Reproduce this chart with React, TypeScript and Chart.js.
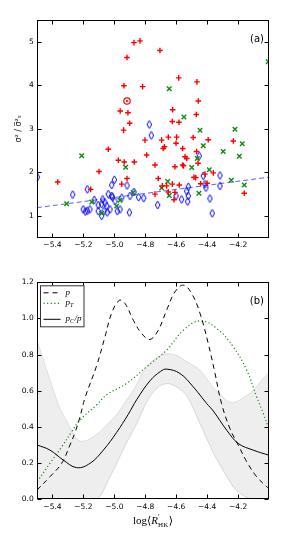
import React, { useEffect, useRef } from 'react';
import { Chart, registerables } from 'chart.js';
Chart.register(...registerables);

// ---------- shared axis ----------
const X_MIN = -5.5;
const X_MAX = -4.0;
const xTicks = [-5.4, -5.2, -5.0, -4.8, -4.6, -4.4, -4.2];
const topYTicks = [1, 2, 3, 4, 5];
const botYTicks = [0, 0.2, 0.4, 0.6, 0.8, 1.0, 1.2];

// ---------- panel (a) ----------
const redX = [-4.873, -4.834, -4.705, -4.918, -4.938, -4.817, -4.584, -4.466, -4.457, -4.470, -4.623, -4.625, -4.582, -4.962, -4.912, -4.901, -4.940, -5.366, -5.153, -5.099, -5.039, -4.974, -4.936, -4.918, -4.952, -4.871, -4.802, -4.791, -4.737, -4.716, -4.737, -4.694, -4.684, -4.676, -4.651, -4.597, -4.601, -4.558, -4.543, -4.532, -4.608, -4.558, -4.553, -4.662, -4.625, -4.580, -4.651, -4.608, -4.614, -4.490, -4.393, -4.231, -4.468, -4.459, -4.360, -4.485, -4.474, -4.414, -4.442, -4.160, -4.690, -4.400];
const redY = [4.98, 5.02, 4.80, 4.64, 3.99, 3.97, 4.17, 4.08, 3.64, 3.33, 3.44, 3.17, 3.15, 3.41, 3.37, 3.13, 2.97, 1.78, 1.61, 2.02, 2.53, 2.28, 2.24, 1.86, 1.73, 2.24, 2.74, 2.40, 2.17, 1.86, 1.50, 2.74, 2.55, 2.59, 2.81, 2.81, 2.67, 2.55, 2.36, 2.32, 2.13, 2.17, 2.15, 1.69, 1.73, 1.71, 1.55, 1.54, 1.37, 2.80, 2.75, 2.72, 2.48, 2.21, 1.99, 1.89, 1.88, 1.96, 1.74, 1.52, 1.69, 1.75];

const blueX = [-5.498, -5.269, -5.175, -5.201, -5.175, -5.158, -5.188, -5.130, -5.104, -5.082, -5.075, -5.082, -5.049, -5.039, -5.017, -4.996, -5.028, -5.067, -5.104, -4.981, -5.017, -5.000, -4.918, -4.873, -4.899, -4.843, -4.810, -4.952, -4.963, -4.903, -4.720, -4.774, -4.761, -4.601, -4.532, -4.522, -4.526, -4.565, -4.451, -4.425, -4.317, -4.414, -4.408, -4.317, -4.522, -4.382, -4.367, -5.046, -5.013, -5.060];
const blueY = [1.89, 1.49, 1.61, 1.15, 1.12, 1.15, 1.10, 1.37, 1.25, 1.00, 1.38, 1.27, 1.23, 1.50, 1.46, 1.34, 1.15, 1.11, 1.11, 1.11, 1.71, 1.83, 1.70, 1.55, 1.46, 1.43, 1.41, 1.42, 1.15, 1.08, 1.25, 3.10, 2.85, 1.46, 1.57, 1.46, 1.33, 1.38, 2.38, 1.92, 1.93, 1.73, 1.65, 1.69, 1.67, 1.40, 1.06, 1.08, 1.43, 1.30];

const greenX = [-5.211, -5.308, -5.146, -5.082, -4.985, -4.963, -4.927, -4.878, -4.694, -4.655, -4.645, -4.500, -4.446, -4.220, -4.425, -4.173, -4.296, -4.192, -4.464, -4.386, -4.244, -4.160, -4.453, -4.645, -4.550, -4.005];
const greenY = [2.38, 1.28, 1.32, 1.06, 1.23, 1.36, 2.12, 1.54, 1.64, 1.79, 1.47, 2.11, 2.97, 2.99, 2.61, 2.66, 2.48, 2.37, 2.32, 2.06, 1.82, 1.71, 1.52, 3.92, 3.27, 4.54];

const targetX = [-4.918];
const targetY = [3.64];

const regX = [-5.5, -4.0];
const regY = [1.19, 1.89];

// ---------- panel (b) ----------
const pX = [-5.500, -5.416, -5.340, -5.287, -5.254, -5.222, -5.190, -5.114, -5.060, -5.017, -4.968, -4.931, -4.877, -4.823, -4.770, -4.716, -4.662, -4.608, -4.554, -4.500, -4.446, -4.393, -4.349, -4.307, -4.252, -4.199, -4.144, -4.080, -4.015, -4.000];
const pY = [0.051, 0.125, 0.20, 0.30, 0.37, 0.456, 0.56, 0.74, 0.90, 1.03, 1.10, 1.083, 0.99, 0.917, 0.884, 0.935, 1.046, 1.147, 1.184, 1.138, 1.028, 0.862, 0.696, 0.53, 0.39, 0.300, 0.208, 0.125, 0.07, 0.06];

const ptX = [-5.498, -5.416, -5.340, -5.276, -5.222, -5.114, -5.049, -4.920, -4.791, -4.662, -4.554, -4.446, -4.338, -4.231, -4.144, -4.080, -4.037, -4.005];
const ptY = [0.097, 0.20, 0.29, 0.374, 0.438, 0.522, 0.578, 0.641, 0.733, 0.825, 0.935, 0.987, 0.945, 0.843, 0.714, 0.567, 0.475, 0.40];

const pcX = [-5.498, -5.416, -5.330, -5.243, -5.157, -5.071, -4.985, -4.910, -4.856, -4.770, -4.700, -4.662, -4.576, -4.490, -4.403, -4.360, -4.274, -4.199, -4.102, -4.005];
const pcY = [0.30, 0.272, 0.217, 0.175, 0.199, 0.272, 0.37, 0.47, 0.55, 0.655, 0.708, 0.72, 0.696, 0.622, 0.53, 0.488, 0.383, 0.309, 0.272, 0.245];

const bandX = [-5.500, -5.416, -5.351, -5.306, -5.254, -5.203, -5.112, -5.028, -4.983, -4.944, -4.879, -4.854, -4.789, -4.724, -4.660, -4.595, -4.531, -4.447, -4.362, -4.317, -4.272, -4.233, -4.188, -4.143, -4.104, -4.046, -4.000];
const bandUp = [0.88, 0.66, 0.50, 0.43, 0.345, 0.32, 0.36, 0.43, 0.47, 0.52, 0.60, 0.64, 0.735, 0.785, 0.805, 0.795, 0.76, 0.714, 0.62, 0.58, 0.545, 0.535, 0.55, 0.575, 0.60, 0.66, 0.70];
const bandLo = [0, 0, 0, 0, 0, 0, 0, 0.125, 0.20, 0.272, 0.38, 0.42, 0.54, 0.615, 0.64, 0.62, 0.57, 0.42, 0.26, 0.19, 0.125, 0.07, 0.033, 0.01, 0, 0, 0];

const legendLabels = [
  { main: 'p', sub: '', tail: '' },
  { main: 'p', sub: 'T', tail: '' },
  { main: 'p', sub: 'C', tail: '/p' },
];

const zip = (xs: number[], ys: number[]) => xs.map((x, i) => ({ x, y: ys[i] }));
const FONT = 'DejaVu Sans';
const GREEN = '#118a11';

function makeDiamond(color: string) {
  const c = document.createElement('canvas');
  c.width = 7;
  c.height = 10;
  const g = c.getContext('2d')!;
  g.strokeStyle = color;
  g.lineWidth = 1;
  g.beginPath();
  g.moveTo(3.5, 1);
  g.lineTo(5.8, 5);
  g.lineTo(3.5, 9);
  g.lineTo(1.2, 5);
  g.closePath();
  g.stroke();
  return c;
}

const frameTicks = {
  id: 'frameTicks',
  afterDatasetsDraw(chart: any, _args: any, opts: any) {
    const { ctx, chartArea: a, scales } = chart;
    ctx.save();
    ctx.strokeStyle = '#000';
    ctx.lineWidth = 1;
    const L = Math.round(a.left) + 0.5, R = Math.round(a.right) - 0.5;
    const T = Math.round(a.top) + 0.5, B = Math.round(a.bottom) - 0.5;
    ctx.strokeRect(L, T, R - L, B - T);
    ctx.beginPath();
    for (const t of scales.x.ticks) {
      const px = Math.round(scales.x.getPixelForValue(t.value)) + 0.5;
      ctx.moveTo(px, B); ctx.lineTo(px, B - 4);
      ctx.moveTo(px, T); ctx.lineTo(px, T + 4);
    }
    for (const t of scales.y.ticks) {
      const py = Math.round(scales.y.getPixelForValue(t.value)) + 0.5;
      ctx.moveTo(L, py); ctx.lineTo(L + 4, py);
      ctx.moveTo(R, py); ctx.lineTo(R - 4, py);
    }
    ctx.stroke();
    if (opts && opts.label) {
      ctx.fillStyle = '#000';
      ctx.font = `10px "${FONT}"`;
      ctx.textAlign = 'right';
      ctx.textBaseline = 'middle';
      ctx.fillText(opts.label, a.right - 5, a.top + opts.dy);
    }
    ctx.restore();
  },
};

const legendPlugin = {
  id: 'innerLegend',
  afterDraw(chart: any, _args: any, opts: any) {
    if (!opts || !opts.show) return;
    const { ctx, chartArea: a } = chart;
    ctx.save();
    const bx = a.left + 3.5, by = a.top + 3.5, bw = 43.5, bh = 41;
    ctx.fillStyle = '#fff';
    ctx.fillRect(bx, by, bw, bh);
    ctx.strokeStyle = '#333';
    ctx.lineWidth = 1;
    ctx.strokeRect(bx, by, bw, bh);
    const rowsY = [by + 7, by + 17.5, by + 33.5];
    const styles = [
      { color: '#000', dash: [5, 4], w: 1 },
      { color: GREEN, dash: [1.2, 2.4], w: 1.2 },
      { color: '#000', dash: [], w: 1 },
    ];
    legendLabels.forEach((lab, i) => {
      const y = rowsY[i];
      const s = styles[i];
      ctx.strokeStyle = s.color;
      ctx.lineWidth = s.w;
      ctx.setLineDash(s.dash);
      ctx.beginPath();
      ctx.moveTo(bx + 3, y);
      ctx.lineTo(bx + 20, y);
      ctx.stroke();
      ctx.setLineDash([]);
      ctx.fillStyle = '#000';
      ctx.textBaseline = 'alphabetic';
      ctx.textAlign = 'left';
      let x = bx + 25;
      ctx.font = 'italic 9px "Liberation Serif"';
      ctx.fillText(lab.main, x, y + 2);
      x += ctx.measureText(lab.main).width;
      if (lab.sub) {
        ctx.font = 'italic 6px "Liberation Serif"';
        ctx.fillText(lab.sub, x, y + 4);
        x += ctx.measureText(lab.sub).width + 0.5;
      }
      if (lab.tail) {
        ctx.font = 'italic 9px "Liberation Serif"';
        ctx.fillText(lab.tail, x, y + 2);
      }
    });
    ctx.restore();
  },
};

const xTitlePlugin = {
  id: 'xTitle',
  afterDraw(chart: any, _args: any, opts: any) {
    if (!opts || !opts.show) return;
    const { ctx, chartArea: a } = chart;
    ctx.save();
    ctx.fillStyle = '#000';
    ctx.textBaseline = 'alphabetic';
    ctx.textAlign = 'left';
    const base = a.bottom + 25;
    const parts = [
      { t: 'log', f: '11px "Liberation Serif"' },
      { t: '\u27E8', f: '11px "DejaVu Serif"' },
      { t: 'R', f: 'italic 11px "Liberation Serif"' },
    ];
    const fSup = '8px "Liberation Serif"';
    const fSub = '7px "Liberation Serif"';
    const fEnd = '11px "DejaVu Serif"';
    let total = 0;
    for (const p of parts) { ctx.font = p.f; total += ctx.measureText(p.t).width; }
    ctx.font = fSub; const wSub = ctx.measureText('HK').width;
    ctx.font = fEnd; const wEnd = ctx.measureText('\u27E9').width;
    total += wSub + 0.5 + wEnd;
    let x = (a.left + a.right) / 2 - total / 2;
    for (const p of parts) {
      ctx.font = p.f;
      ctx.fillText(p.t, x, base);
      x += ctx.measureText(p.t).width;
    }
    ctx.font = fSup;
    ctx.fillText('\u2032', x, base - 4);
    ctx.font = fSub;
    ctx.fillText('HK', x, base + 2.5);
    x += wSub + 0.5;
    ctx.font = fEnd;
    ctx.fillText('\u27E9', x, base);
    ctx.restore();
  },
};

const xFmt = (v: number) => (v < 0 ? '\u2212' : '') + Math.abs(v).toFixed(1);

function xScale(height: number) {
  return {
    type: 'linear',
    min: X_MIN,
    max: X_MAX,
    grid: { display: false, drawTicks: false },
    border: { display: false },
    afterBuildTicks: (s: any) => { s.ticks = xTicks.map((v) => ({ value: v })); },
    afterFit: (s: any) => { s.height = height; },
    ticks: {
      autoSkip: false, maxRotation: 0, padding: 3, color: '#000',
      font: { family: FONT, size: 7.5 },
      callback: (v: any) => xFmt(Number(v)),
    },
  };
}

export default function App() {
  const topRef = useRef<HTMLCanvasElement>(null);
  const botRef = useRef<HTMLCanvasElement>(null);

  useEffect(() => {
    const diamond = makeDiamond('#0000ff');
    const top = new Chart(topRef.current!, {
      type: 'scatter',
      data: {
        datasets: [
          { data: zip(regX, regY), showLine: true, borderColor: 'rgba(40,40,255,0.75)', borderWidth: 1, borderDash: [5, 3], pointRadius: 0, clip: 0, order: 5 } as any,
          { data: zip(blueX, blueY), pointStyle: diamond, pointRadius: 4, clip: 0, order: 3 } as any,
          { data: zip(greenX, greenY), pointStyle: 'crossRot', pointRadius: 3.2, borderColor: GREEN, borderWidth: 1.4, clip: 0, order: 2 } as any,
          { data: zip(redX, redY), pointStyle: 'cross', pointRadius: 2.8, borderColor: '#ff0000', borderWidth: 1.4, clip: 0, order: 1 } as any,
          { data: zip(targetX, targetY), pointStyle: 'circle', pointRadius: 3.2, borderColor: '#ff0000', backgroundColor: 'rgba(0,0,0,0)', borderWidth: 1.2, clip: 0, order: 1 } as any,
          { data: zip(targetX, targetY), pointStyle: 'circle', pointRadius: 1.1, borderColor: '#ff0000', backgroundColor: '#ff0000', borderWidth: 0, clip: 0, order: 0 } as any,
        ],
      },
      options: {
        animation: false, responsive: false, maintainAspectRatio: false, events: [],
        layout: { padding: { left: 0, right: 30, top: 20, bottom: 0 } },
        scales: {
          x: xScale(22.3) as any,
          y: {
            type: 'linear', min: 0.5, max: 5.5,
            grid: { display: false, drawTicks: false },
            border: { display: false },
            afterBuildTicks: (s: any) => { s.ticks = topYTicks.map((v) => ({ value: v })); },
            afterFit: (s: any) => { s.width = 37; },
            title: { display: true, text: '\u03C3\u00B2 / \u03C3\u0305\u00B2\u209B', color: '#222', font: { family: FONT, size: 8 }, padding: { top: 14.5, bottom: 0 } },
            ticks: { padding: 3.3, color: '#000', font: { family: FONT, size: 7.5 }, callback: (v: any) => String(v) },
          } as any,
        },
        plugins: {
          legend: { display: false }, tooltip: { enabled: false },
          frameTicks: { label: '(a)', dy: 19 },
        } as any,
      },
      plugins: [frameTicks],
    });

    const bot = new Chart(botRef.current!, {
      type: 'line',
      data: {
        datasets: [
          { data: zip(bandX, bandLo), borderColor: '#d6d6d6', borderWidth: 0.8, pointRadius: 0, fill: false, tension: 0.35, clip: 0, order: 10 } as any,
          { data: zip(bandX, bandUp), borderColor: '#d6d6d6', borderWidth: 0.8, pointRadius: 0, fill: '-1', backgroundColor: 'rgba(0,0,0,0.065)', tension: 0.35, clip: 0, order: 9 } as any,
          { data: zip(pX, pY), borderColor: '#000', borderWidth: 1, borderDash: [5, 4], pointRadius: 0, fill: false, tension: 0.4, clip: 0, order: 1 } as any,
          { data: zip(ptX, ptY), borderColor: GREEN, borderWidth: 1.2, borderDash: [1.2, 2.4], pointRadius: 0, fill: false, tension: 0.4, clip: 0, order: 2 } as any,
          { data: zip(pcX, pcY), borderColor: '#000', borderWidth: 1, pointRadius: 0, fill: false, tension: 0.4, clip: 0, order: 0 } as any,
        ],
      },
      options: {
        animation: false, responsive: false, maintainAspectRatio: false, events: [],
        layout: { padding: { left: 0, right: 30, top: 22.3, bottom: 0 } },
        scales: {
          x: xScale(40.7) as any,
          y: {
            type: 'linear', min: 0, max: 1.2,
            grid: { display: false, drawTicks: false },
            border: { display: false },
            afterBuildTicks: (s: any) => { s.ticks = botYTicks.map((v) => ({ value: v })); },
            afterFit: (s: any) => { s.width = 37; },
            ticks: { padding: 3.3, color: '#000', font: { family: FONT, size: 7.5 }, callback: (v: any) => Number(v).toFixed(1) },
          } as any,
        },
        plugins: {
          legend: { display: false }, tooltip: { enabled: false },
          frameTicks: { label: '(b)', dy: 19 },
          innerLegend: { show: true },
          xTitle: { show: true },
        } as any,
      },
      plugins: [frameTicks, legendPlugin, xTitlePlugin],
    });

    return () => { top.destroy(); bot.destroy(); };
  }, []);

  return (
    <div style={{ position: 'absolute', left: 0, top: 0, width: 299, height: 540, background: '#fff' }}>
      <canvas ref={topRef} width={299} height={260} style={{ display: 'block', width: 299, height: 260 }} />
      <canvas ref={botRef} width={299} height={280} style={{ display: 'block', width: 299, height: 280 }} />
    </div>
  );
}
